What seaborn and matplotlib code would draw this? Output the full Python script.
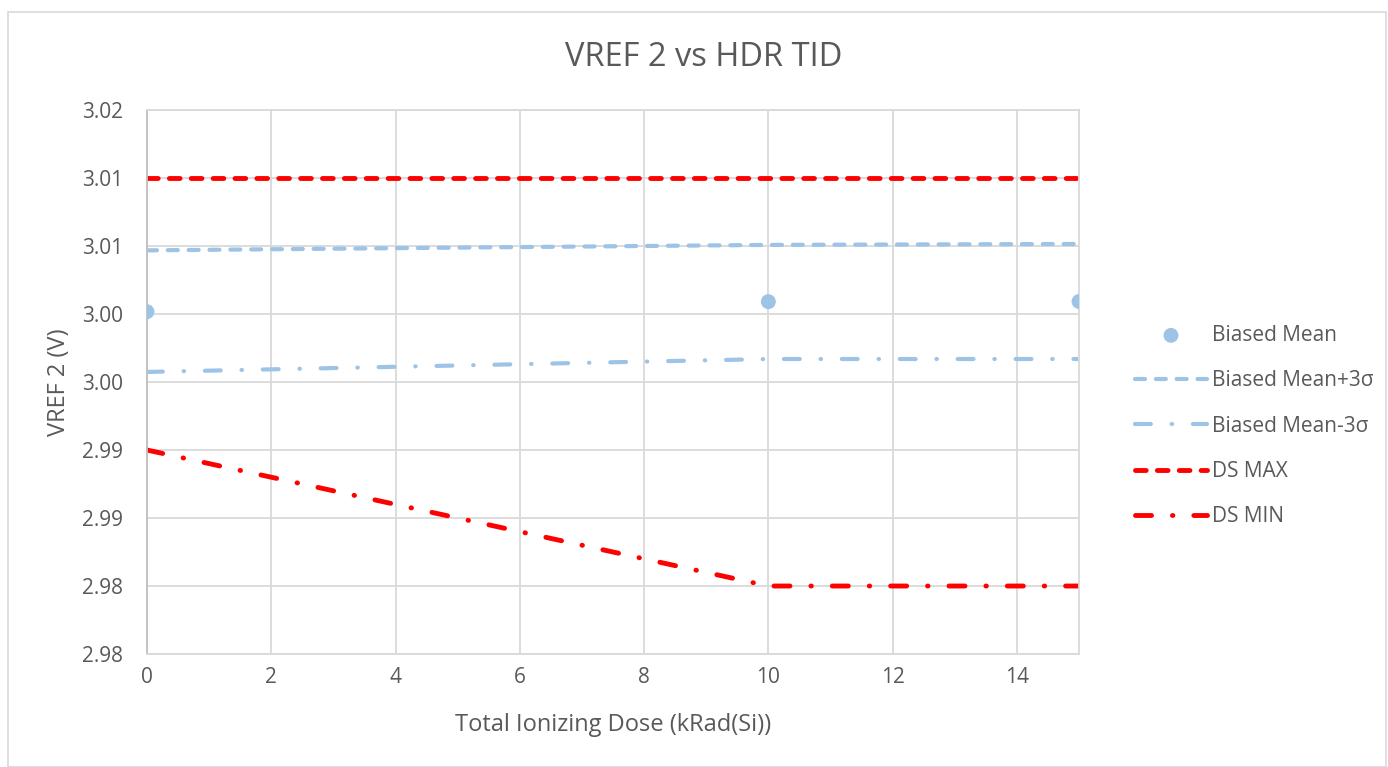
import numpy as np
import pandas as pd
import matplotlib
matplotlib.use("Agg")
import matplotlib.pyplot as plt
import seaborn as sns
from matplotlib.patches import Rectangle

# Données
dose = [0, 10, 15]
biased_mean = [3.00517, 3.00591, 3.00592]
mean_plus_3s = [3.00968, 3.01008, 3.01015]
mean_minus_3s = [3.00074, 3.00169, 3.00169]
ds_max = [3.015, 3.015, 3.015]
ds_min = [2.995, 2.985, 2.985]

yticks = [2.98, 2.985, 2.99, 2.995, 3.00, 3.005, 3.01, 3.015, 3.02]
ytick_labels = ["2.98", "2.98", "2.99", "2.99", "3.00", "3.00", "3.01", "3.01", "3.02"]
xticks = [0, 2, 4, 6, 8, 10, 12, 14]

sns.set_theme(style="whitegrid")
plt.rcParams['font.family'] = ['Open Sans', 'DejaVu Sans']
text_color = "#595959"
blue = "#9dc3e6"
red = "#ff0000"

fig = plt.figure(figsize=(13.88, 7.67), dpi=100)
ax = fig.add_axes([0.1059, 0.1473, 0.6715, 0.7093])

sns.scatterplot(x=dose, y=biased_mean, ax=ax, color=blue, s=115, edgecolor="none",
                label="Biased Mean", zorder=5)
sns.lineplot(x=dose, y=mean_plus_3s, ax=ax, color=blue, linewidth=3,
             label="Biased Mean+3\u03c3")
sns.lineplot(x=dose, y=mean_minus_3s, ax=ax, color=blue, linewidth=3,
             label="Biased Mean-3\u03c3")
sns.lineplot(x=dose, y=ds_max, ax=ax, color=red, linewidth=3.5, label="DS MAX")
sns.lineplot(x=dose, y=ds_min, ax=ax, color=red, linewidth=3.5, label="DS MIN")

lines = ax.get_lines()
lines[0].set_dashes([2.4, 2.6])
lines[1].set_dashes([3.8, 5.0, 0.1, 5.0])
lines[2].set_dashes([2.2, 2.3])
lines[3].set_dashes([3.3, 4.3, 0.1, 4.3])
for ln in lines:
    ln.set_solid_capstyle("round")
    ln.set_dash_capstyle("round")

ax.set_xlim(0, 15)
ax.set_ylim(2.98, 3.02)
ax.set_xticks(xticks)
ax.set_yticks(yticks)
ax.set_yticklabels(ytick_labels)
ax.tick_params(axis="both", colors=text_color, labelsize=15, length=0)
ax.tick_params(axis="y", pad=17)
ax.tick_params(axis="x", pad=9)
ax.grid(True, color="#d9d9d9", linewidth=1.3)
for side in ["top", "right", "bottom"]:
    ax.spines[side].set_color("#d9d9d9")
    ax.spines[side].set_linewidth(1.3)
ax.spines["left"].set_color("#bfbfbf")
ax.spines["left"].set_linewidth(1.3)

fig.text(0.507, 1 - 57 / 767, "VREF 2 vs HDR TID", color=text_color, fontsize=23.5,
         ha="center", va="center")
ax.set_xlabel("Total Ionizing Dose (kRad(Si))", color=text_color, fontsize=17, labelpad=18)
ax.set_ylabel("VREF 2 (V)", color=text_color, fontsize=17, labelpad=8)

leg = ax.legend(loc="center left", bbox_to_anchor=(1.04, 0.419), frameon=False,
                fontsize=15, handlelength=3.45, handletextpad=0.25, labelspacing=1.17,
                markerscale=1.0)
for t in leg.get_texts():
    t.set_color(text_color)

fig.patches.append(Rectangle((8 / 1388, 0), 1378 / 1388, 1 - 12 / 767,
                             transform=fig.transFigure, fill=False,
                             edgecolor="#d9d9d9", linewidth=1.2))

fig.savefig("out.png", dpi=100)
